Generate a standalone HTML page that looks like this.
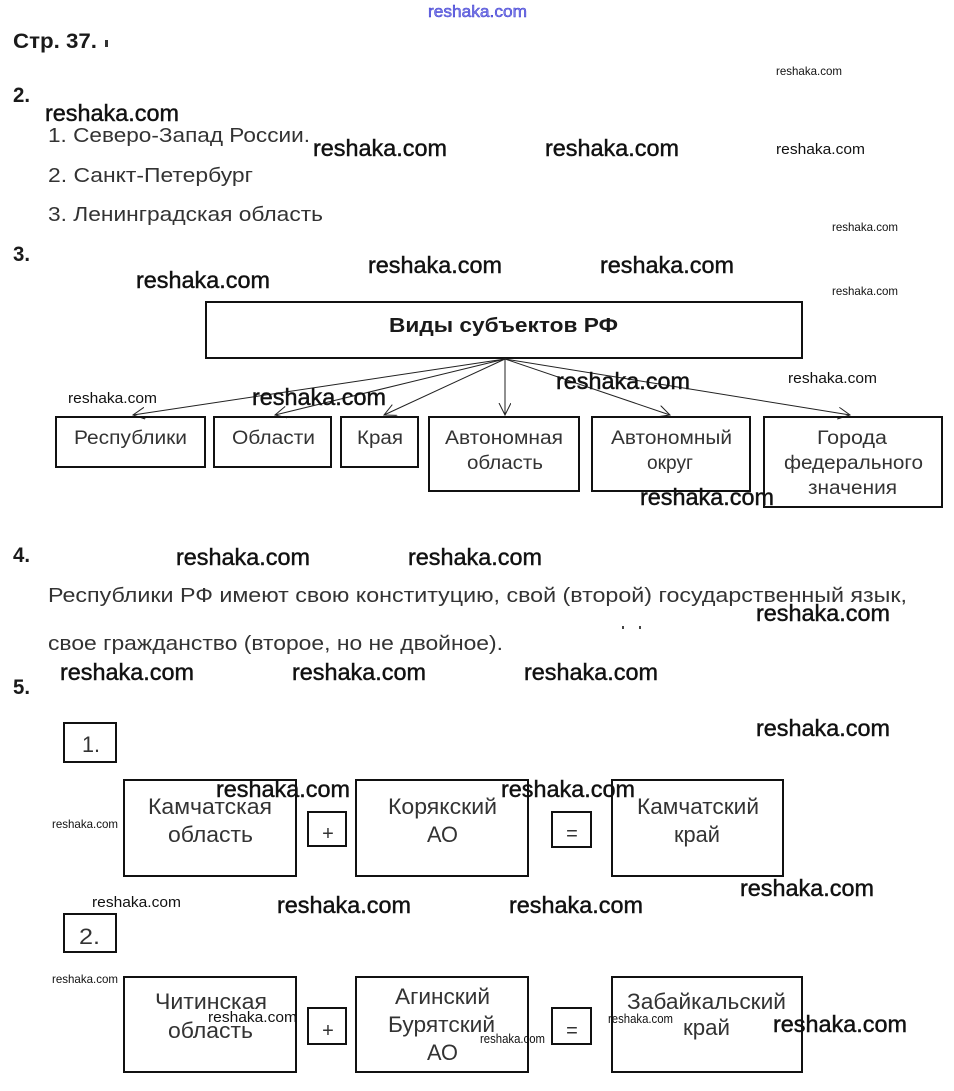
<!DOCTYPE html>
<html><head><meta charset="utf-8"><style>
html,body{margin:0;padding:0;background:#fff;}
svg{display:block;}
text{font-family:"Liberation Sans","DejaVu Sans",sans-serif;}
.wm{fill:#111;}
.wmb{fill:#111;stroke:#111;stroke-width:0.45;}
.h{font-weight:bold;fill:#1a1a1a;}
.t{fill:#333;}
.b{fill:none;stroke:#111;stroke-width:2;}
</style></head><body>
<svg width="954" height="1091" viewBox="0 0 954 1091" xmlns="http://www.w3.org/2000/svg">
<defs>
<marker id="ah" markerUnits="userSpaceOnUse" markerWidth="16" markerHeight="14" refX="12" refY="6" orient="auto">
<path d="M0,0 L12,6 L0,12" fill="none" stroke="#222" stroke-width="1"/>
</marker>
</defs>
<rect width="954" height="1091" fill="#fff"/>

<!-- top blue watermark -->
<text x="428" y="17" font-size="17" fill="#8080e8" stroke="#3a3ad0" stroke-width="0.5" textLength="99" lengthAdjust="spacingAndGlyphs">reshaka.com</text>

<!-- headings -->
<text class="h" x="13" y="48" font-size="21" textLength="84" lengthAdjust="spacingAndGlyphs">Стр. 37.</text>
<rect x="105" y="40" width="3" height="7" fill="#333"/>
<text class="h" x="13" y="102" font-size="21" textLength="17" lengthAdjust="spacingAndGlyphs">2.</text>
<text class="h" x="13" y="261" font-size="21" textLength="17" lengthAdjust="spacingAndGlyphs">3.</text>
<text class="h" x="13" y="562" font-size="21" textLength="17" lengthAdjust="spacingAndGlyphs">4.</text>
<text class="h" x="13" y="694" font-size="21" textLength="17" lengthAdjust="spacingAndGlyphs">5.</text>

<!-- section 2 list -->
<text class="t" x="48" y="142" font-size="20.5" textLength="262" lengthAdjust="spacingAndGlyphs">1. Северо-Запад России.</text>
<text class="t" x="48" y="182" font-size="20.5" textLength="205" lengthAdjust="spacingAndGlyphs">2. Санкт-Петербург</text>
<text class="t" x="48" y="221" font-size="20.5" textLength="275" lengthAdjust="spacingAndGlyphs">3. Ленинградская область</text>

<!-- section 3 diagram -->
<rect class="b" x="206" y="302" width="596" height="56"/>
<text class="h" x="389" y="332" font-size="20" textLength="229" lengthAdjust="spacingAndGlyphs">Виды субъектов РФ</text>

<g stroke="#222" stroke-width="1" fill="none" marker-end="url(#ah)">
<line x1="505" y1="359" x2="133" y2="415"/>
<line x1="505" y1="359" x2="275" y2="415"/>
<line x1="505" y1="359" x2="384" y2="415"/>
<line x1="505" y1="359" x2="505" y2="415"/>
<line x1="505" y1="359" x2="670" y2="415"/>
<line x1="505" y1="359" x2="850" y2="415"/>
</g>

<rect class="b" x="56" y="417" width="149" height="50"/>
<rect class="b" x="214" y="417" width="117" height="50"/>
<rect class="b" x="341" y="417" width="77" height="50"/>
<rect class="b" x="429" y="417" width="150" height="74"/>
<rect class="b" x="592" y="417" width="158" height="74"/>
<rect class="b" x="764" y="417" width="178" height="90"/>

<g font-size="19" class="t">
<text class="t" x="74" y="444" textLength="113" lengthAdjust="spacingAndGlyphs">Республики</text>
<text class="t" x="232" y="444" textLength="83" lengthAdjust="spacingAndGlyphs">Области</text>
<text class="t" x="357" y="444" textLength="46" lengthAdjust="spacingAndGlyphs">Края</text>
<text class="t" x="445" y="444" textLength="118" lengthAdjust="spacingAndGlyphs">Автономная</text>
<text class="t" x="467" y="469" textLength="76" lengthAdjust="spacingAndGlyphs">область</text>
<text class="t" x="611" y="444" textLength="121" lengthAdjust="spacingAndGlyphs">Автономный</text>
<text class="t" x="647" y="469" textLength="46" lengthAdjust="spacingAndGlyphs">округ</text>
<text class="t" x="817" y="444" textLength="70" lengthAdjust="spacingAndGlyphs">Города</text>
<text class="t" x="784" y="469" textLength="139" lengthAdjust="spacingAndGlyphs">федерального</text>
<text class="t" x="808" y="494" textLength="89" lengthAdjust="spacingAndGlyphs">значения</text>
</g>

<!-- section 4 -->
<text class="t" x="48" y="602" font-size="20.5" textLength="859" lengthAdjust="spacingAndGlyphs">Республики РФ имеют свою конституцию, свой (второй) государственный язык,</text>
<text class="t" x="48" y="650" font-size="20.5" textLength="455" lengthAdjust="spacingAndGlyphs">свое гражданство (второе, но не двойное).</text>
<rect x="622" y="626" width="2" height="3" fill="#444"/>
<rect x="639" y="626" width="2" height="3" fill="#444"/>

<!-- section 5 -->
<rect class="b" x="64" y="723" width="52" height="39"/>
<text class="t" x="82" y="752" font-size="22" textLength="18" lengthAdjust="spacingAndGlyphs">1.</text>
<rect class="b" x="124" y="780" width="172" height="96"/>
<rect class="b" x="308" y="812" width="38" height="34"/>
<rect class="b" x="356" y="780" width="172" height="96"/>
<rect class="b" x="552" y="812" width="39" height="35"/>
<rect class="b" x="612" y="780" width="171" height="96"/>
<g font-size="22">
<text class="t" x="148" y="814" textLength="124" lengthAdjust="spacingAndGlyphs">Камчатская</text>
<text class="t" x="168" y="842" textLength="85" lengthAdjust="spacingAndGlyphs">область</text>
<text class="t" x="388" y="814" textLength="109" lengthAdjust="spacingAndGlyphs">Корякский</text>
<text class="t" x="427" y="842" textLength="31" lengthAdjust="spacingAndGlyphs">АО</text>
<text class="t" x="637" y="814" textLength="122" lengthAdjust="spacingAndGlyphs">Камчатский</text>
<text class="t" x="674" y="842" textLength="46" lengthAdjust="spacingAndGlyphs">край</text>
</g>
<text class="t" x="328" y="840" font-size="20" text-anchor="middle">+</text>
<text class="t" x="572" y="840" font-size="20" text-anchor="middle">=</text>

<rect class="b" x="64" y="914" width="52" height="38"/>
<text class="t" x="79" y="944" font-size="22" textLength="21" lengthAdjust="spacingAndGlyphs">2.</text>
<rect class="b" x="124" y="977" width="172" height="95"/>
<rect class="b" x="308" y="1008" width="38" height="36"/>
<rect class="b" x="356" y="977" width="172" height="95"/>
<rect class="b" x="552" y="1008" width="39" height="36"/>
<rect class="b" x="612" y="977" width="190" height="95"/>
<g font-size="22">
<text class="t" x="155" y="1009" textLength="112" lengthAdjust="spacingAndGlyphs">Читинская</text>
<text class="t" x="168" y="1038" textLength="85" lengthAdjust="spacingAndGlyphs">область</text>
<text class="t" x="395" y="1004" textLength="95" lengthAdjust="spacingAndGlyphs">Агинский</text>
<text class="t" x="388" y="1032" textLength="107" lengthAdjust="spacingAndGlyphs">Бурятский</text>
<text class="t" x="427" y="1060" textLength="31" lengthAdjust="spacingAndGlyphs">АО</text>
<text class="t" x="627" y="1009" textLength="159" lengthAdjust="spacingAndGlyphs">Забайкальский</text>
<text class="t" x="683" y="1035" textLength="47" lengthAdjust="spacingAndGlyphs">край</text>
</g>
<text class="t" x="328" y="1037" font-size="20" text-anchor="middle">+</text>
<text class="t" x="572" y="1037" font-size="20" text-anchor="middle">=</text>

<!-- big watermarks -->
<g class="wmb" font-size="23">
<text x="45" y="121" textLength="134" lengthAdjust="spacingAndGlyphs">reshaka.com</text>
<text x="313" y="156" textLength="134" lengthAdjust="spacingAndGlyphs">reshaka.com</text>
<text x="545" y="156" textLength="134" lengthAdjust="spacingAndGlyphs">reshaka.com</text>
<text x="368" y="273" textLength="134" lengthAdjust="spacingAndGlyphs">reshaka.com</text>
<text x="600" y="273" textLength="134" lengthAdjust="spacingAndGlyphs">reshaka.com</text>
<text x="136" y="288" textLength="134" lengthAdjust="spacingAndGlyphs">reshaka.com</text>
<text x="252" y="405" textLength="134" lengthAdjust="spacingAndGlyphs">reshaka.com</text>
<text x="556" y="389" textLength="134" lengthAdjust="spacingAndGlyphs">reshaka.com</text>
<text x="640" y="505" textLength="134" lengthAdjust="spacingAndGlyphs">reshaka.com</text>
<text x="176" y="565" textLength="134" lengthAdjust="spacingAndGlyphs">reshaka.com</text>
<text x="408" y="565" textLength="134" lengthAdjust="spacingAndGlyphs">reshaka.com</text>
<text x="756" y="621" textLength="134" lengthAdjust="spacingAndGlyphs">reshaka.com</text>
<text x="60" y="680" textLength="134" lengthAdjust="spacingAndGlyphs">reshaka.com</text>
<text x="292" y="680" textLength="134" lengthAdjust="spacingAndGlyphs">reshaka.com</text>
<text x="524" y="680" textLength="134" lengthAdjust="spacingAndGlyphs">reshaka.com</text>
<text x="756" y="736" textLength="134" lengthAdjust="spacingAndGlyphs">reshaka.com</text>
<text x="216" y="797" textLength="134" lengthAdjust="spacingAndGlyphs">reshaka.com</text>
<text x="501" y="797" textLength="134" lengthAdjust="spacingAndGlyphs">reshaka.com</text>
<text x="740" y="896" textLength="134" lengthAdjust="spacingAndGlyphs">reshaka.com</text>
<text x="277" y="913" textLength="134" lengthAdjust="spacingAndGlyphs">reshaka.com</text>
<text x="509" y="913" textLength="134" lengthAdjust="spacingAndGlyphs">reshaka.com</text>
<text x="773" y="1032" textLength="134" lengthAdjust="spacingAndGlyphs">reshaka.com</text>
</g>

<!-- small watermarks -->
<g class="wm">
<text x="776" y="75" font-size="12" textLength="66" lengthAdjust="spacingAndGlyphs">reshaka.com</text>
<text x="776" y="154" font-size="15" textLength="89" lengthAdjust="spacingAndGlyphs">reshaka.com</text>
<text x="832" y="231" font-size="12" textLength="66" lengthAdjust="spacingAndGlyphs">reshaka.com</text>
<text x="832" y="295" font-size="12" textLength="66" lengthAdjust="spacingAndGlyphs">reshaka.com</text>
<text x="68" y="403" font-size="15" textLength="89" lengthAdjust="spacingAndGlyphs">reshaka.com</text>
<text x="788" y="383" font-size="15" textLength="89" lengthAdjust="spacingAndGlyphs">reshaka.com</text>
<text x="52" y="828" font-size="12" textLength="66" lengthAdjust="spacingAndGlyphs">reshaka.com</text>
<text x="92" y="907" font-size="15" textLength="89" lengthAdjust="spacingAndGlyphs">reshaka.com</text>
<text x="52" y="983" font-size="12" textLength="66" lengthAdjust="spacingAndGlyphs">reshaka.com</text>
<text x="208" y="1022" font-size="15" textLength="89" lengthAdjust="spacingAndGlyphs">reshaka.com</text>
<text x="480" y="1043" font-size="12.5" textLength="65" lengthAdjust="spacingAndGlyphs">reshaka.com</text>
<text x="608" y="1023" font-size="12.5" textLength="65" lengthAdjust="spacingAndGlyphs">reshaka.com</text>
</g>
</svg>
</body></html>
